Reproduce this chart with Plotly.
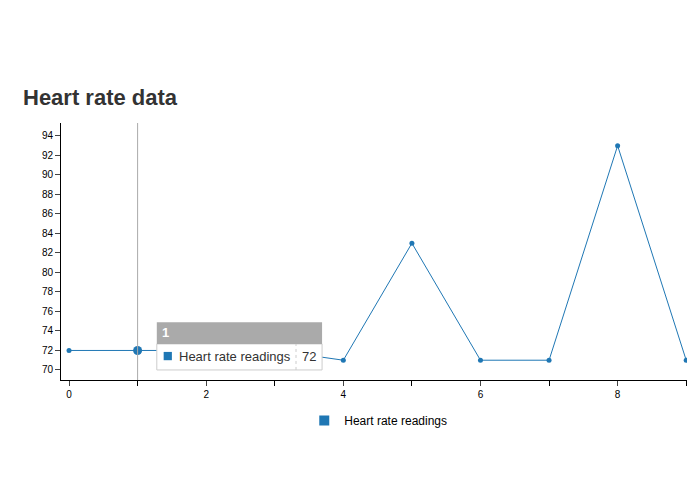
import plotly.graph_objects as go

x_vals = [0, 1, 2, 3, 4, 5, 6, 7, 8, 9]
heart_rate = [72, 72, 72, 72, 71, 83, 71, 71, 93, 71]
series_name = "Heart rate readings"
title = "Heart rate data"
color = "#1f77b4"

fig = go.Figure()
fig.add_trace(go.Scatter(x=x_vals, y=heart_rate, mode="lines+markers", name=series_name, showlegend=False,
                         line=dict(color=color, width=1), marker=dict(size=5, color=color)))
fig.add_trace(go.Scatter(x=[x_vals[1]], y=[heart_rate[1]], mode="markers", showlegend=False,
                         marker=dict(size=9, color=color)))
# legend entry (square swatch)
fig.add_trace(go.Scatter(x=[None], y=[None], mode="markers", name=series_name, showlegend=True,
                         marker=dict(size=10, symbol="square", color=color)))

shapes = [
    dict(type="line", xref="x", yref="paper", x0=1, x1=1, y0=0, y1=1, line=dict(color="#aaa", width=1)),
    dict(type="rect", xref="x", yref="y", x0=1.28, x1=3.69, y0=70.0, y1=72.67,
         fillcolor="white", line=dict(color="#ccc", width=1)),
    dict(type="rect", xref="x", yref="y", x0=1.28, x1=3.69, y0=72.67, y1=74.9,
         fillcolor="#aaaaaa", line=dict(width=0)),
    dict(type="line", xref="x", yref="y", x0=3.31, x1=3.31, y0=70.0, y1=72.67, line=dict(color="#ccc", width=1, dash="dot")),
    dict(type="rect", xref="x", yref="y", x0=1.38, x1=1.5, y0=71.0, y1=71.85,
         fillcolor=color, line=dict(width=0)),
]
annotations = [
    dict(x=1.33, y=73.8, xref="x", yref="y", text="<b>1</b>", showarrow=False, xanchor="left",
         font=dict(color="white", size=13)),
    dict(x=1.58, y=71.4, xref="x", yref="y", text=series_name, showarrow=False, xanchor="left",
         font=dict(color="#333", size=13)),
    dict(x=3.5, y=71.4, xref="x", yref="y", text="72", showarrow=False, xanchor="center",
         font=dict(color="#333", size=13)),
]

fig.update_layout(
    width=695, height=494, paper_bgcolor="white", plot_bgcolor="white",
    margin=dict(l=53, r=12, t=115, b=122, autoexpand=False),
    font=dict(family="Liberation Sans, Arial, sans-serif", color="#000"),
    title=dict(text="<b>" + title + "</b>", x=15 / 695, xanchor="left", y=1 - 89 / 494, yanchor="middle",
               font=dict(size=22, color="#333")),
    xaxis=dict(range=[-0.117, 9.07], tickvals=[0, 2, 4, 6, 8], ticks="outside", ticklen=5, automargin=False,
               showgrid=False, zeroline=False, showline=True, linecolor="#000", tickfont=dict(size=10),
               minor=dict(dtick=1, ticks="outside", ticklen=5, tickcolor="#000")),
    yaxis=dict(range=[68.97, 95.33], dtick=2, tick0=70, ticks="outside", ticklen=5, automargin=False,
               showgrid=False, zeroline=False, showline=True, linecolor="#000", tickfont=dict(size=10)),
    legend=dict(orientation="h", x=350 / 695, xanchor="center", y=1 - 398 / 494, yref="container", yanchor="top",
                font=dict(size=12)),
    shapes=shapes, annotations=annotations,
)
fig.write_html("out.html")
